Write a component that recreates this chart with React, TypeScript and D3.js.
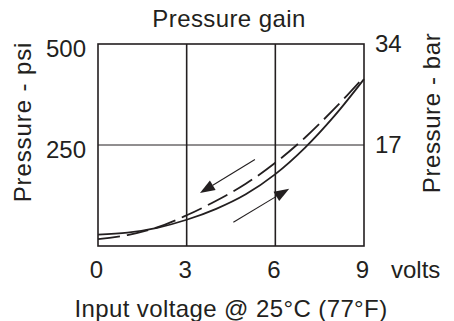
import React from 'react'
import * as d3 from 'd3'

// input voltage (V)
const volts = [0, 1, 2, 3, 4, 5, 6, 7, 8, 9]
// pressure (psi) for rising voltage (solid) and falling voltage (dashed)
const risingPsi = [28, 33, 45, 65, 92, 128, 178, 243, 322, 413]
const fallingPsi = [17, 27, 46, 76, 112, 154, 206, 268, 340, 418]

const xTicks = [0, 3, 6, 9]
const psiTicks = [250, 500]
const barTicks = [17, 34]

// hysteresis direction arrows, [from, to] in volts / psi
const arrows = [
  { from: [5.31, 214], to: [3.45, 131] },
  { from: [4.58, 59], to: [6.47, 142] },
]

const ink = '#231f20'
const font = '"Liberation Sans", Arial, sans-serif'

export default function App() {
  const width = 454
  const height = 321
  const margin = { top: 44, right: 90, bottom: 75, left: 98 }

  const x = d3.scaleLinear().domain([0, 9]).range([margin.left, width - margin.right])
  const y = d3.scaleLinear().domain([0, 500]).range([height - margin.bottom, margin.top])
  const yBar = d3.scaleLinear().domain([0, 34]).range([height - margin.bottom, margin.top])

  const line = d3.line<number>()
    .x((_, i) => x(volts[i]))
    .y(d => y(d))
    .curve(d3.curveCatmullRom)

  const x0 = x(0), x1 = x(9), y0 = y(0), y1 = y(500)

  return (
    <svg width={width} height={height} style={{ position: 'absolute', left: 0, top: 0 }} fontFamily={font}>
      <rect width={width} height={height} fill="#fff" />

      {/* grid */}
      <line x1={x0} x2={x1} y1={y(250)} y2={y(250)} stroke={ink} strokeWidth={1} />
      {[3, 6].map(v => (
        <line key={v} x1={x(v)} x2={x(v)} y1={y0} y2={y1} stroke={ink} strokeWidth={1.6} />
      ))}
      <rect x={x0} y={y1} width={x1 - x0} height={y0 - y1} fill="none" stroke={ink} strokeWidth={1.6} />

      {/* curves */}
      <path d={line(risingPsi) ?? ''} fill="none" stroke={ink} strokeWidth={1.8} />
      <path d={line(fallingPsi) ?? ''} fill="none" stroke={ink} strokeWidth={1.8} strokeDasharray="22 7" />

      {/* arrows */}
      {arrows.map((a, i) => {
        const sx = x(a.from[0]), sy = y(a.from[1])
        const tx = x(a.to[0]), ty = y(a.to[1])
        const ang = Math.atan2(ty - sy, tx - sx)
        const len = 15, hw = 5.5
        const bx = tx - len * Math.cos(ang), by = ty - len * Math.sin(ang)
        const px = -Math.sin(ang) * hw, py = Math.cos(ang) * hw
        return (
          <g key={i}>
            <line x1={sx} y1={sy} x2={bx} y2={by} stroke={ink} strokeWidth={1.1} />
            <path d={`M${tx},${ty}L${bx + px},${by + py}L${bx - px},${by - py}Z`} fill={ink} />
          </g>
        )
      })}

      {/* tick labels */}
      <g fontSize={24} fill={ink}>
        {psiTicks.map(t => (
          <text key={t} x={86} y={y(t) + 13} textAnchor="end">{t}</text>
        ))}
        {barTicks.map(t => (
          <text key={t} x={375} y={yBar(t) + 7.5} textAnchor="start">{t}</text>
        ))}
        {xTicks.map(t => (
          <text key={t} x={x(t) - 1.5} y={277.5} textAnchor="middle">{t}</text>
        ))}
        <text x={391} y={277.5}>volts</text>
      </g>

      {/* titles */}
      <g fontSize={24} fill={ink} letterSpacing={0.4}>
        <text x={229} y={27} textAnchor="middle">Pressure gain</text>
        <text x={231} y={317} textAnchor="middle">Input voltage @ 25°C (77°F)</text>
        <text transform="translate(31,122) rotate(-90)" textAnchor="middle" letterSpacing={0.9}>Pressure - psi</text>
        <text transform="translate(440,113) rotate(-90)" textAnchor="middle" letterSpacing={0.6}>Pressure - bar</text>
      </g>
    </svg>
  )
}
